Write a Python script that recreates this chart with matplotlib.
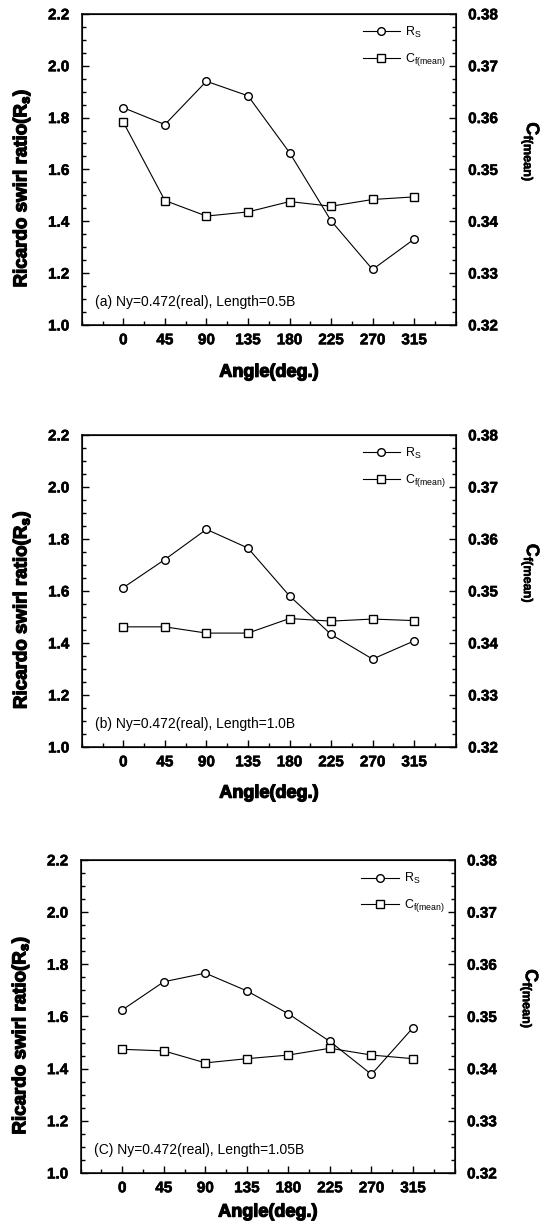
import matplotlib
matplotlib.use("Agg")
import matplotlib.pyplot as plt
import matplotlib.patheffects as pe
from matplotlib.ticker import MultipleLocator, FormatStrFormatter

plt.rcParams['font.family'] = ['Liberation Sans', 'DejaVu Sans']
plt.rcParams['mathtext.fontset'] = 'custom'
plt.rcParams['mathtext.rm'] = 'Liberation Sans'
plt.rcParams['mathtext.bf'] = 'Liberation Sans:bold'

angles = [0, 45, 90, 135, 180, 225, 270, 315]
angle_labels = ["0", "45", "90", "135", "180", "225", "270", "315"]

rs_a = [1.838, 1.773, 1.940, 1.884, 1.665, 1.402, 1.214, 1.331]
cf_a = [0.3591, 0.3440, 0.3410, 0.3418, 0.3438, 0.3429, 0.3442, 0.3447]

rs_b = [1.613, 1.721, 1.837, 1.765, 1.581, 1.433, 1.338, 1.408]
cf_b = [0.3431, 0.3431, 0.3419, 0.3419, 0.3447, 0.3442, 0.3446, 0.3443]

rs_c = [1.625, 1.733, 1.766, 1.698, 1.610, 1.504, 1.378, 1.557]
cf_c = [0.3437, 0.3434, 0.3411, 0.3419, 0.3426, 0.3439, 0.3426, 0.3419]

captions = ["(a) Ny=0.472(real), Length=0.5B",
            "(b) Ny=0.472(real), Length=1.0B",
            "(C) Ny=0.472(real), Length=1.05B"]

panels = [(rs_a, cf_a), (rs_b, cf_b), (rs_c, cf_c)]

# axes boxes in figure fractions [left, bottom, width, height]
boxes = [[0.149, 0.7356, 0.681, 0.2531],
         [0.149, 0.3922, 0.681, 0.2539],
         [0.147, 0.0456, 0.681, 0.2547]]
# where the x label sits under each panel (axes fraction)
xlabel_y = [-0.152, -0.148, -0.125]

thick = [pe.withStroke(linewidth=0.9, foreground="black")]
thin = [pe.withStroke(linewidth=0.4, foreground="black")]

fig = plt.figure(figsize=(5.49, 12.29), dpi=100)

for i in range(3):
    rs, cf = panels[i]
    ax = fig.add_axes(boxes[i])
    ax2 = ax.twinx()

    l1, = ax.plot(angles, rs, color="black", lw=0.8, marker="o", ms=5.5,
                  mfc="white", mec="black", mew=1.0)
    l2, = ax2.plot(angles, cf, color="black", lw=0.8, marker="s", ms=5.5,
                   mfc="white", mec="black", mew=1.0)

    ax.set_xlim(-45, 360)
    ax.set_ylim(1.0, 2.2)
    ax2.set_ylim(0.32, 0.38)

    ax.set_xticks(angles)
    ax.set_xticklabels(angle_labels)
    ax.xaxis.set_minor_locator(MultipleLocator(22.5))
    ax.yaxis.set_major_locator(MultipleLocator(0.2))
    ax.yaxis.set_minor_locator(MultipleLocator(0.05))
    ax2.yaxis.set_major_locator(MultipleLocator(0.01))
    ax2.yaxis.set_minor_locator(MultipleLocator(0.0025))
    ax.yaxis.set_major_formatter(FormatStrFormatter("%.1f"))
    ax2.yaxis.set_major_formatter(FormatStrFormatter("%.2f"))

    ax.tick_params(which="both", direction="in", top=False, right=False,
                   labelsize=11, width=1)
    ax.tick_params(which="major", length=5)
    ax.tick_params(which="minor", length=3)
    ax.tick_params(axis="x", which="major", pad=6)
    ax.tick_params(axis="y", which="major", pad=9)
    ax2.tick_params(which="both", direction="in", labelsize=11, width=1)
    ax2.tick_params(which="major", length=5, pad=9)
    ax2.tick_params(which="minor", length=3)
    for lab in ax.get_xticklabels() + ax.get_yticklabels() + ax2.get_yticklabels():
        lab.set_fontweight("bold")
        lab.set_path_effects(thin)

    for sp in ax.spines.values():
        sp.set_linewidth(1.1)

    t = ax.text(0.5, xlabel_y[i], "Angle(deg.)", transform=ax.transAxes,
                fontsize=13, fontweight="bold", ha="center", va="center")
    t.set_path_effects(thick)
    t = ax.text(-0.16, 0.44, "Ricardo swirl ratio(R$_\\mathbf{s}$)",
                transform=ax.transAxes, fontsize=13.5, fontweight="bold",
                rotation=90, ha="center", va="center")
    t.set_path_effects(thick)
    t = ax.text(1.2, 0.555, "C$_{\\mathbf{f(mean)}}$", transform=ax.transAxes,
                fontsize=13, fontweight="bold", rotation=270,
                ha="center", va="center")
    t.set_path_effects(thin)

    ax.text(0.035, 0.074, captions[i], transform=ax.transAxes, fontsize=10,
            ha="left", va="center")

    ax.legend([l1, l2], ["R$_\\mathrm{S}$", "C$_\\mathrm{f(mean)}$"],
              loc="upper left", frameon=False, fontsize=9,
              handlelength=3.0, handletextpad=0.4, borderpad=0,
              borderaxespad=0, bbox_to_anchor=(0.751, 0.965),
              labelspacing=0.9)

fig.savefig("out.png", dpi=100)
